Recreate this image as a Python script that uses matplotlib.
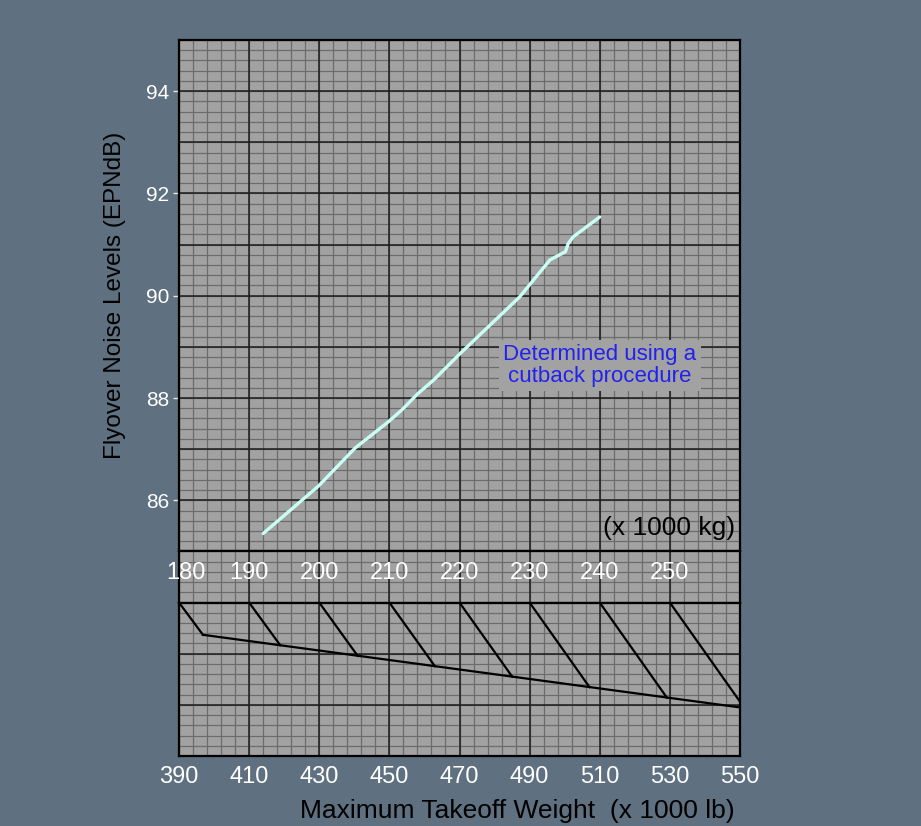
import matplotlib.pyplot as plt
import numpy as np

plt.rcParams['font.family'] = ['Liberation Sans', 'DejaVu Sans']

# flyover noise curve (x in 1000 kg, y in EPNdB)
weight_kg = [192.0, 199.9, 205.1, 209.9, 211.8, 214.1, 216.3, 220.1,
             228.6, 232.9, 235.1, 235.5, 236.2, 240.0]
noise_epndb = [85.35, 86.28, 87.02, 87.54, 87.77, 88.09, 88.35, 88.87,
               89.98, 90.70, 90.86, 91.02, 91.15, 91.54]

noise_ticks = [86, 88, 90, 92, 94]
kg_ticks = [180, 190, 200, 210, 220, 230, 240, 250]
lb_ticks = [390, 410, 430, 450, 470, 490, 510, 530, 550]

# kg -> lb conversion nomogram, slanted reference line (x in 1000 lb, y in grid units)
ref_line_lb = [396.8, 550.0]
ref_line_y = [2.37, 0.95]
KG_TO_LB = 2.20462

KG_RANGE = (180, 260)
LB_RANGE = (390, 550)

FIG_BG = '#5f7080'
GRID_BG = '#a2a2a2'
MAJOR_COLOR = '#1c1c1c'
MINOR_COLOR = '#6c6c6c'


def draw_grid(ax, xlim, xmajor, ylim, ymajor):
    ax.set_facecolor(GRID_BG)
    ax.set_xlim(*xlim)
    ax.set_ylim(*ylim)
    # 5 minor divisions per major one in both directions
    for x in np.arange(xlim[0], xlim[1] + 1e-9, xmajor / 5):
        ax.axvline(x, color=MINOR_COLOR, linewidth=0.9, zorder=0)
    for y in np.arange(ylim[0], ylim[1] + 1e-9, ymajor / 5):
        ax.axhline(y, color=MINOR_COLOR, linewidth=0.9, zorder=0)
    for x in np.arange(xlim[0], xlim[1] + 1e-9, xmajor):
        ax.axvline(x, color=MAJOR_COLOR, linewidth=1.1, zorder=0.5)
    for y in np.arange(ylim[0], ylim[1] + 1e-9, ymajor):
        ax.axhline(y, color=MAJOR_COLOR, linewidth=1.1, zorder=0.5)
    for s in ax.spines.values():
        s.set_linewidth(1.6)
        s.set_color('black')
        s.set_zorder(3)


def main():
    fig = plt.figure(figsize=(9.21, 8.26), dpi=100)
    fig.patch.set_facecolor(FIG_BG)

    W, H = 921.0, 826.0
    left, right = 179 / W, 740 / W
    top_px, bot_px = 40.0, 756.0
    unit = (bot_px - top_px) / 14.0  # 10 units noise, 1 kg band, 3 nomogram

    def rect(y_top, n_units):
        y_bottom = y_top + n_units * unit
        return [left, 1 - y_bottom / H, right - left, n_units * unit / H]

    ax = fig.add_axes(rect(top_px, 10))
    ax_kg = fig.add_axes(rect(top_px + 10 * unit, 1))
    ax_lb = fig.add_axes(rect(top_px + 11 * unit, 3))

    # --- noise vs weight ---
    draw_grid(ax, KG_RANGE, 10, (85, 95), 1)
    ax.plot(weight_kg, noise_epndb, color='#c8fff2', linewidth=2.4,
            solid_capstyle='round', zorder=2)
    ax.set_xticks([])
    ax.set_yticks(noise_ticks)
    ax.tick_params(axis='y', colors='#e8e8e8', labelcolor='white',
                   labelsize=15, length=4, width=1, pad=3)
    ax.set_ylabel('Flyover Noise Levels (EPNdB)', fontsize=17.5,
                  color='black', labelpad=14)
    ax.text(259.3, 85.46, '(x 1000 kg)', ha='right', va='center',
            fontsize=19, color='black', zorder=4)
    ax.text(240.0, 88.63, 'Determined using a\ncutback procedure',
            ha='center', va='center', fontsize=16, color='#2222ee',
            linespacing=1.05, zorder=4,
            bbox=dict(facecolor=GRID_BG, edgecolor='none', pad=3))

    # --- kg scale band ---
    draw_grid(ax_kg, KG_RANGE, 10, (0, 1), 1)
    ax_kg.set_xticks([])
    ax_kg.set_yticks([])
    for i, kg in enumerate(kg_ticks):
        ax_kg.annotate(str(kg), (kg, 0.58), xytext=(5 if i == 0 else 0, 0),
                       textcoords='offset points', ha='center', va='center',
                       fontsize=17, color='white', zorder=4)

    # --- lb conversion nomogram ---
    draw_grid(ax_lb, LB_RANGE, 20, (0, 3), 1)
    ax_lb.plot(ref_line_lb, ref_line_y, color='black', linewidth=1.6, zorder=2)
    for kg in kg_ticks:
        start_lb = np.interp(kg, KG_RANGE, LB_RANGE)
        end_lb = kg * KG_TO_LB
        end_y = np.interp(end_lb, ref_line_lb, ref_line_y)
        ax_lb.plot([start_lb, end_lb], [3, end_y], color='black',
                   linewidth=1.6, zorder=2)
    ax_lb.set_yticks([])
    ax_lb.set_xticks(lb_ticks)
    ax_lb.tick_params(axis='x', labelcolor='white', labelsize=17,
                      length=0, pad=7)
    ax_lb.set_xlabel('Maximum Takeoff Weight  (x 1000 lb)', fontsize=19,
                     color='black')
    ax_lb.xaxis.label.set_horizontalalignment('right')
    ax_lb.xaxis.set_label_coords((735 - 179) / 561, -0.28)

    fig.savefig('out.png', dpi=100, facecolor=FIG_BG)
    plt.close(fig)


if __name__ == '__main__':
    main()
